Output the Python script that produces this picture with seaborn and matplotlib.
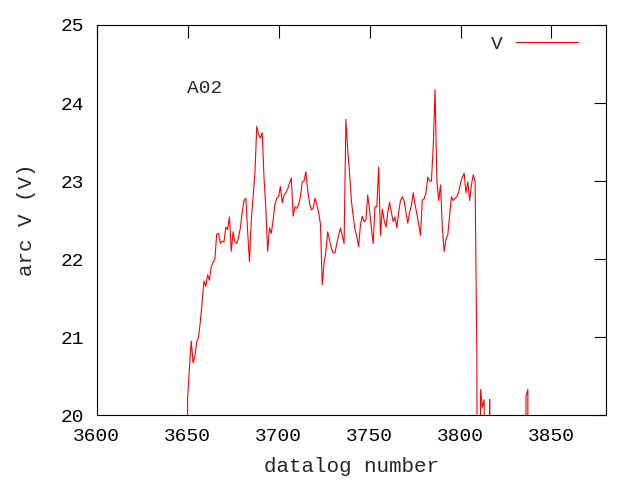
import matplotlib
matplotlib.use("Agg")
import matplotlib.pyplot as plt
import numpy as np
import pandas as pd
import seaborn as sns

# datalog numbers 3646..3840, one reading each (0 = arc off, below the axis)
start_log = 3646
arc_v = [
    0, 0, 0, 0,
    20.22, 20.6, 20.95, 20.67, 20.75, 20.94, 21.0, 21.2, 21.45, 21.72,  # 3650
    21.65, 21.8, 21.73, 21.9, 21.96, 22.0, 22.32, 22.33, 22.2, 22.23,  # 3660
    22.22, 22.41, 22.38, 22.54, 22.1, 22.35, 22.22, 22.2, 22.28, 22.4,  # 3670
    22.6, 22.75, 22.78, 22.35, 21.97, 22.5, 22.8, 23.1, 23.7, 23.6,  # 3680
    23.55, 23.62, 23.04, 22.65, 22.1, 22.4, 22.33, 22.5, 22.7, 22.78,  # 3690
    22.8, 22.93, 22.72, 22.82, 22.85, 22.9, 22.97, 23.04, 22.55, 22.67,  # 3700
    22.65, 22.7, 22.8, 22.99, 23.0, 23.12, 22.88, 22.72, 22.63, 22.65,  # 3710
    22.78, 22.7, 22.6, 22.45, 21.67, 21.95, 22.1, 22.35, 22.25, 22.14,  # 3720
    22.08, 22.08, 22.2, 22.3, 22.4, 22.3, 22.2, 23.79, 23.4, 23.1,  # 3730
    22.75, 22.55, 22.38, 22.29, 22.16, 22.44, 22.55, 22.48, 22.5, 22.82,  # 3740
    22.63, 22.4, 22.2, 22.67, 22.67, 23.18, 22.3, 22.64, 22.5, 22.41,  # 3750
    22.59, 22.73, 22.6, 22.48, 22.54, 22.4, 22.6, 22.75, 22.8, 22.75,  # 3760
    22.6, 22.46, 22.6, 22.68, 22.85, 22.7, 22.58, 22.45, 22.3, 22.76,  # 3770
    22.77, 22.85, 23.05, 23.0, 23.0, 23.45, 24.17, 23.0, 22.75, 22.95,  # 3780
    22.4, 22.1, 22.25, 22.31, 22.56, 22.8, 22.75, 22.78, 22.8, 22.86,  # 3790
    22.97, 23.05, 23.1, 22.85, 22.99, 22.75, 22.95, 23.08, 23.0, 20.73,  # 3800
    0, 20.33, 20.1, 20.2, 0, 0, 20.2, 0, 0, 0,  # 3810
    0, 0, 0, 0, 0, 0, 0, 0, 0, 0,  # 3820
    0, 0, 0, 0, 0, 0, 20.24, 20.33, 0, 0,  # 3830
    0,  # 3840
]
datalog = list(range(start_log, start_log + len(arc_v)))

x_ticks = [3600, 3650, 3700, 3750, 3800, 3850]
y_ticks = [20, 21, 22, 23, 24, 25]

df = pd.DataFrame({"datalog number": datalog, "arc V (V)": arc_v})

sns.set_style("white")
plt.rcParams["font.family"] = ["Liberation Mono", "DejaVu Sans Mono"]

fig = plt.figure(figsize=(6.4, 4.8), dpi=100)
ax = fig.add_axes([0.151, 0.135, 0.796, 0.813])

sns.lineplot(data=df, x="datalog number", y="arc V (V)", color="red",
             linewidth=0.8, estimator=None, sort=False, label="V", ax=ax)

ax.set_xlim(3600, 3880)
ax.set_ylim(20, 25)
ax.set_xticks(x_ticks)
ax.set_yticks(y_ticks)
ax.tick_params(direction="in", top=True, right=True, length=9, width=0.8,
               labelsize=14, pad=9, colors="black")
for sp in ax.spines.values():
    sp.set_color("black")
    sp.set_linewidth(0.8)

ax.set_xlabel("datalog number", fontsize=15, labelpad=9)
ax.set_ylabel("arc V (V)", fontsize=15, labelpad=18)
ax.text(3649.5, 24.19, "A02", fontsize=14, va="center", ha="left")

ax.legend(loc="center right", bbox_to_anchor=(0.961, 0.951), borderaxespad=0,
          frameon=False, markerfirst=False, fontsize=14,
          handlelength=3.2, handletextpad=0.7)

fig.savefig("out.png", dpi=100)
